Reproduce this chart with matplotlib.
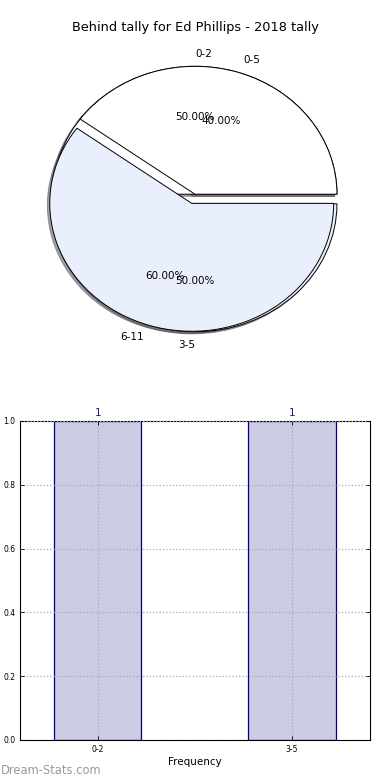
import matplotlib
matplotlib.use('Agg')
import matplotlib.pyplot as plt

# pie data (two pies drawn on the same axes)
groups_first = ['0-2', '3-5']
counts_first = [1, 1]
groups_second = ['0-5', '6-11']
counts_second = [40, 60]

# bar data
bar_labels = ['0-2', '3-5']
bar_counts = [1, 1]

title = 'Behind tally for Ed Phillips - 2018 tally'
pie_colors = ['white', '#e9effc']

fig = plt.figure(figsize=(3.9, 7.8), dpi=100)

# pie chart
ax1 = fig.add_axes([0.045, 0.546, 0.91, 0.41])
for labels, counts in [(groups_first, counts_first), (groups_second, counts_second)]:
    wedges, texts, autotexts = ax1.pie(counts, labels=labels, colors=pie_colors,
                                       explode=[0, 0.075],
                                       shadow={'ox': -0.012, 'oy': -0.012},
                                       autopct='%1.2f%%',
                                       wedgeprops={'edgecolor': 'black', 'linewidth': 0.7})
    for t in texts + autotexts:
        t.set_fontsize(7.5)
    # labels sitting straight above/below the centre: old-style alignment
    if labels is groups_first:
        texts[0].set_ha('left')
        texts[1].set_ha('right')
ax1.set_aspect('auto')
ax1.set_xlim(-1.25, 1.25)
ax1.set_ylim(-1.25, 1.25)
ax1.set_title(title, fontsize=9.3, pad=-2)

# bar chart
ax2 = fig.add_axes([0.0513, 0.0513, 0.897, 0.409])
x = list(range(len(bar_labels)))
bars = ax2.bar(x, bar_counts, width=0.45, color='#ccccE5', edgecolor='#000080', linewidth=0.9)
for xi, v in zip(x, bar_counts):
    ax2.text(xi, v + 0.01, str(v), ha='center', va='bottom', color='#1a1a8c', fontsize=7.5)
ax2.set_xlim(-0.4, 1.4)
ax2.set_ylim(0, 1.0)
ax2.set_xticks(x)
ax2.set_xticklabels(bar_labels)
ax2.set_yticks([0.0, 0.2, 0.4, 0.6, 0.8, 1.0])
ax2.tick_params(direction='in', top=True, right=True, labelsize=5.5, length=3, width=0.6)
ax2.grid(True, linestyle=':', color='#aaaaaa', linewidth=0.9)
ax2.set_axisbelow(False)
ax2.set_xlabel('Frequency', fontsize=7.5, labelpad=2)
for s in ax2.spines.values():
    s.set_linewidth(0.8)

fig.text(0.002, 0.004, 'Dream-Stats.com', color='#999999', fontsize=8.3, ha='left', va='bottom')

fig.savefig('out.png', dpi=100)
